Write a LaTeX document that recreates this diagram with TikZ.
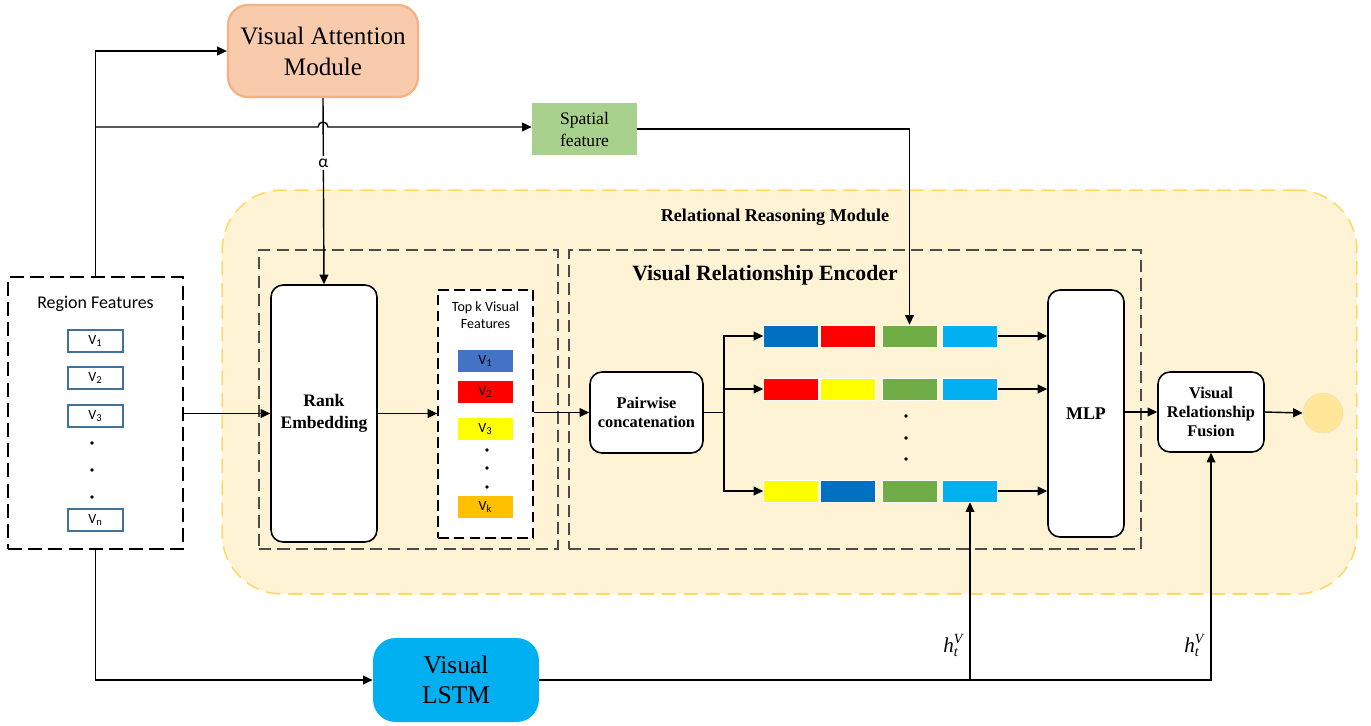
\documentclass[tikz,border=0pt]{standalone}
\usepackage{fontspec}
\setmainfont{Liberation Serif}
\newfontfamily\calibri{Carlito}
\usetikzlibrary{arrows.meta, positioning}
\definecolor{vaFill}{HTML}{F8CBAD}
\definecolor{vaLine}{HTML}{F4B183}
\definecolor{spFill}{HTML}{A9D18E}
\definecolor{rrmFill}{HTML}{FFF3D6}
\definecolor{rrmLine}{HTML}{FFD966}
\definecolor{lstmFill}{HTML}{00B0F0}
\definecolor{vLine}{HTML}{41719C}
\definecolor{cBlue}{HTML}{0070C0}
\definecolor{cBlueK}{HTML}{4472C4}
\definecolor{cRed}{HTML}{FF0000}
\definecolor{cYellow}{HTML}{FFFF00}
\definecolor{cOrange}{HTML}{FFC000}
\definecolor{cGreen}{HTML}{70AD47}
\definecolor{cCyan}{HTML}{00B0F0}
\definecolor{outFill}{HTML}{FFE699}
\newcommand{\hvec}{\textit{h}\makebox[0pt][l]{\raisebox{-0.4ex}{\fontsize{8}{8}\selectfont\textit{t}}}\raisebox{0.95ex}{\fontsize{8}{8}\selectfont\textit{V}}}

\begin{document}
\begin{tikzpicture}[x=0.02cm, y=-0.02cm,
  conn/.style={line width=0.8pt, -{Triangle[length=5.5pt,width=5pt]}},
  wire/.style={line width=0.8pt},
  wbox/.style={draw, line width=0.9pt, rounded corners=0.24cm, fill=white, align=center,
    inner sep=1pt, font=\fontsize{9.3}{11}\selectfont\bfseries},
  dbox/.style={draw=black!70, line width=0.8pt, dash pattern=on 7pt off 3.5pt},
  vbox/.style={draw=vLine, line width=0.6pt, minimum width=1.1cm, minimum height=0.44cm,
    inner sep=0pt, font=\calibri\fontsize{8}{9}\selectfont},
  kbox/.style={minimum width=1.1cm, minimum height=0.44cm, inner sep=0pt,
    font=\calibri\fontsize{8}{9}\selectfont},
  seg/.style={draw=white, line width=0.3pt, minimum width=1.1cm, minimum height=0.44cm, inner sep=0pt}]
  \useasboundingbox (0,0) rectangle (1371,725);

  % relational reasoning module (background)
  \node[draw=rrmLine, fill=rrmFill, line width=0.9pt, dash pattern=on 8pt off 4.5pt,
    rounded corners=1.2cm, minimum width=22.7cm, minimum height=8.08cm] (rrm) at (789.5,392) {};
  \node[font=\fontsize{10.3}{12}\selectfont\bfseries] (rrmtitle) at (775,217) {Relational Reasoning Module};
  \node[dbox, minimum width=5.98cm, minimum height=5.98cm] (rankarea) at (408.5,399.5) {};
  \node[dbox, minimum width=11.44cm, minimum height=5.98cm] (enc) at (855,399.5) {};
  \node[font=\fontsize{12.4}{14}\selectfont\bfseries] (enctitle) at (765,275) {Visual Relationship Encoder};

  % top modules
  \node[draw=vaLine, fill=vaFill, line width=1.3pt, rounded corners=0.4cm, align=center,
    minimum width=3.8cm, minimum height=1.84cm, font=\fontsize{14.3}{17.6}\selectfont] (va) at (323,51)
    {Visual Attention\\Module};
  \node[fill=spFill, align=center, minimum width=2.1cm, minimum height=1.04cm,
    font=\fontsize{10}{12.5}\selectfont] (sp) at (584.5,129) {Spatial\\feature};

  % region features
  \node[draw, line width=0.8pt, dash pattern=on 8pt off 3.5pt, minimum width=3.5cm, minimum height=5.44cm] (rf) at (95.5,413) {};
  \node[font=\calibri\fontsize{10.2}{12}\selectfont] (rftitle) at (95.5,304) {Region Features};
  \foreach \i/\y/\s in {1/341/1, 2/378/2, 3/416/3, n/520/n}
    \node[vbox] (rv\i) at (95.5,\y) {V\textsubscript{\s}};
  \foreach \y in {443, 470, 497} \fill (92,\y) circle (1.1pt);

  % rank embedding and top k
  \node[wbox, minimum width=2.12cm, minimum height=5.14cm, font=\fontsize{10}{12.5}\selectfont\bfseries] (re) at (324,413.5)
    {Rank\\Embedding};
  \node[draw, fill=white, line width=0.8pt, dash pattern=on 6pt off 3pt, minimum width=1.9cm, minimum height=4.96cm] (topk) at (485.5,414) {};
  \node[align=center, font=\calibri\fontsize{8}{10}\selectfont] (topktitle) at (485.5,315) {Top k Visual\\Features};
  \foreach \i/\y/\c in {1/361/cBlueK, 2/392/cRed, 3/429/cYellow, k/507/cOrange}
    \node[kbox, fill=\c] (kv\i) at (485.5,\y) {V\textsubscript{\i}};
  \foreach \y in {450, 468, 487} \fill (487,\y) circle (1.1pt);

  % pairwise concatenation and feature rows
  \node[wbox, minimum width=2.26cm, minimum height=1.62cm] (pc) at (646.5,412.5) {Pairwise\\concatenation};
  \foreach \r/\y/\ca/\cb in {1/336/cBlue/cRed, 2/389/cRed/cYellow, 3/491/cYellow/cBlue}{
    \node[seg, fill=\ca] (r\r-a) at (791,\y) {};
    \node[seg, fill=\cb] (r\r-b) at (847.5,\y) {};
    \node[seg, fill=cGreen] (r\r-c) at (909.5,\y) {};
    \node[seg, fill=cCyan] (r\r-d) at (970,\y) {};
  }
  \foreach \y in {416, 438, 459} \fill (906,\y) circle (1.1pt);

  \node[wbox, minimum width=1.52cm, minimum height=4.94cm, font=\fontsize{10.2}{12}\selectfont\bfseries] (mlp) at (1086,413.5) {MLP};
  \node[wbox, minimum width=2.12cm, minimum height=1.6cm] (vrf) at (1211,412) {Visual\\Relationship\\Fusion};
  \node[circle, draw=outFill!90!black!60, fill=outFill, line width=0.3pt, minimum size=0.8cm] (out) at (1323,413) {};

  % visual LSTM
  \node[fill=lstmFill, rounded corners=0.45cm, align=center, minimum width=3.32cm, minimum height=1.68cm,
    font=\fontsize{14.5}{17}\selectfont] (lstm) at (456,680) {Visual\\LSTM};

  % connectors
  \draw[conn] (rf.north) |- (va.west);
  \coordinate (split) at (95.5,127);
  \draw[conn] (split) -- (318,127) arc[start angle=180, end angle=0, radius=0.1cm] -- (sp.west |- split);
  \draw[conn] (va.south) -- node[pos=0.35, fill=white, inner sep=1.5pt, font=\calibri\fontsize{10}{12}\selectfont] (alpha) {α} (re.north);
  \draw[conn] (sp.east) -| (r1-c.north);
  \draw[conn] (rf.east |- re.west) -- (re.west);
  \draw[conn] (re.east) -- (topk.west |- re.east);
  \draw[conn] (topk.east |- pc.west) -- (pc.west);
  \coordinate (br) at (724,412.5);
  \draw[wire] (pc.east) -- (br);
  \foreach \r in {1,2,3}{
    \draw[conn] (br) |- (r\r-a.west);
    \draw[conn] (r\r-d.east) -- (mlp.west |- r\r-d);
  }
  \draw[conn] (mlp.east |- vrf.west) -- (vrf.west);
  \draw[conn] (vrf.east) -- (out.west);
  \draw[conn] (rf.south) |- (lstm.west);
  \draw[conn] (lstm.east) -| (r3-d.south);
  \draw[conn] (lstm.east) -| (vrf.south);
  \node[anchor=east, inner sep=1pt, font=\fontsize{12}{14}\selectfont] (h1) at (966,645) {\hvec};
  \node[anchor=east, inner sep=1pt, font=\fontsize{12}{14}\selectfont] (h2) at (1207,645) {\hvec};
\end{tikzpicture}
\end{document}
